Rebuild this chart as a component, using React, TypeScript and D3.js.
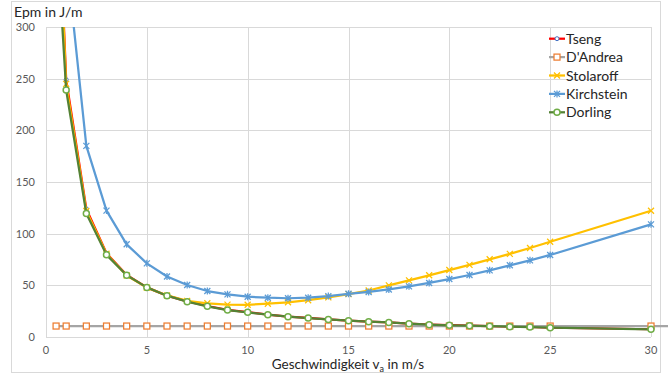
import React, { useEffect, useRef } from 'react';
import * as d3 from 'd3';

// Geschwindigkeit in m/s
const speeds = [0.5, 1, 2, 3, 4, 5, 6, 7, 8, 9, 10, 11, 12, 13, 14, 15, 16, 17, 18, 19, 20, 21, 22, 23, 24, 25, 30];

// Epm in J/m
const tseng = [480, 249, 124, 81, 60, 48, 40, 34.5, 30, 26.3, 24, 21.7, 19.8, 18.4, 17.1, 15.9, 14.9, 14.2, 13, 12, 11.4, 11, 10.6, 10.1, 9.7, 9.1, 7.5];
const dAndreaSpeeds = [...speeds, 31];
const dAndrea = [10.6, 10.6, 10.6, 10.6, 10.6, 10.6, 10.6, 10.6, 10.6, 10.6, 10.6, 10.6, 10.6, 10.6, 10.6, 10.6, 10.6, 10.6, 10.6, 10.6, 10.6, 10.6, 10.6, 10.6, 10.6, 10.6, 10.6, 10.6];
const stolaroff = [470, 245, 122, 80.5, 59.5, 47.8, 40.2, 35, 32.6, 31.3, 31.2, 32.2, 33.6, 35.6, 38.3, 41.5, 45, 50, 54.8, 59.7, 64.8, 69.8, 75.2, 80.4, 86.1, 92.2, 122.2];
const kirchstein = [700, 370, 185, 122.3, 89.7, 71.3, 58.5, 50.3, 44.5, 41.3, 39, 38, 37.5, 38, 39.6, 41.8, 43.6, 46, 49, 52.3, 56.1, 60, 64.5, 69.4, 74.2, 79.4, 109];
const dorling = [400, 239, 119.5, 79.5, 59.7, 48, 40, 34.2, 29.7, 26.1, 23.9, 21.6, 19.7, 18.3, 17, 15.8, 14.8, 14.1, 12.9, 11.9, 11.3, 10.9, 10.5, 10, 9.6, 9, 7.4];

const xTicks = [0, 5, 10, 15, 20, 25, 30];
const yTicks = [0, 50, 100, 150, 200, 250, 300];

const FONT = 'Lato, "Open Sans", sans-serif';

const App = () => {
  const svgRef = useRef<SVGSVGElement>(null);

  useEffect(() => {
    const svg = d3.select(svgRef.current);
    svg.selectAll('*').remove();

    const x = d3.scaleLinear().domain([0, 30]).range([46, 651]);
    const y = d3.scaleLinear().domain([0, 300]).range([337, 27]);

    // Rahmen
    svg.append('rect')
      .attr('x', 11.5).attr('y', 1.5)
      .attr('width', 649).attr('height', 371)
      .attr('fill', '#fff').attr('stroke', '#d9d9d9');

    // Gitternetz
    svg.append('g').selectAll('line').data(yTicks).join('line')
      .attr('x1', x(0)).attr('x2', x(30))
      .attr('y1', d => Math.round(y(d)) + 0.5).attr('y2', d => Math.round(y(d)) + 0.5)
      .attr('stroke', '#d9d9d9');
    svg.append('g').selectAll('line').data(xTicks).join('line')
      .attr('y1', y(0)).attr('y2', y(300))
      .attr('x1', d => Math.round(x(d)) + 0.5).attr('x2', d => Math.round(x(d)) + 0.5)
      .attr('stroke', '#d9d9d9');

    // Achsenbeschriftung
    svg.append('g').selectAll('text').data(yTicks).join('text')
      .attr('x', 35).attr('y', d => y(d) + 4)
      .attr('text-anchor', 'end')
      .attr('font-family', FONT).attr('font-size', 11).attr('fill', '#595959')
      .text(d => d);
    svg.append('g').selectAll('text').data(xTicks).join('text')
      .attr('x', d => x(d)).attr('y', 354)
      .attr('text-anchor', 'middle')
      .attr('font-family', FONT).attr('font-size', 11).attr('fill', '#595959')
      .text(d => d);

    svg.append('text')
      .attr('x', 14).attr('y', 17)
      .attr('font-family', FONT).attr('font-size', 14).attr('fill', '#262626')
      .text('Epm in J/m');

    const xt = svg.append('text')
      .attr('x', 348).attr('y', 369)
      .attr('text-anchor', 'middle')
      .attr('font-family', FONT).attr('font-size', 13.5).attr('fill', '#262626');
    xt.append('tspan').text('Geschwindigkeit v');
    xt.append('tspan').attr('font-size', 9).attr('dy', 3).text('a');
    xt.append('tspan').attr('dy', -3).text(' in m/s');

    // Kurven
    const series = [
      { name: 'Tseng', xs: speeds, values: tseng, color: '#ff0000', marker: 'smallCircle', mColor: '#4472c4' },
      { name: "D'Andrea", xs: dAndreaSpeeds, values: dAndrea, color: '#a5a5a5', marker: 'square', mColor: '#ed7d31' },
      { name: 'Stolaroff', xs: speeds, values: stolaroff, color: '#ffc000', marker: 'x', mColor: '#ffc000' },
      { name: 'Kirchstein', xs: speeds, values: kirchstein, color: '#5b9bd5', marker: 'star', mColor: '#5b9bd5' },
      { name: 'Dorling', xs: speeds, values: dorling, color: '#548235', marker: 'circle', mColor: '#70ad47' },
    ];

    svg.append('defs').append('clipPath').attr('id', 'plotClip')
      .append('rect').attr('x', 0).attr('y', y(300)).attr('width', 668).attr('height', 360);

    const line = d3.line<[number, number]>()
      .x(d => x(d[0]))
      .y(d => y(d[1]));

    const drawMarker = (g: any, type: string, color: string, cx: number, cy: number) => {
      if (type === 'circle') {
        g.append('circle').attr('cx', cx).attr('cy', cy).attr('r', 3)
          .attr('fill', '#fff').attr('stroke', color).attr('stroke-width', 1.5);
      } else if (type === 'smallCircle') {
        g.append('circle').attr('cx', cx).attr('cy', cy).attr('r', 2)
          .attr('fill', '#fff').attr('stroke', color).attr('stroke-width', 1);
      } else if (type === 'square') {
        g.append('rect').attr('x', cx - 3).attr('y', cy - 3).attr('width', 6).attr('height', 6)
          .attr('fill', '#fff').attr('stroke', color).attr('stroke-width', 1.25);
      } else if (type === 'x') {
        g.append('path').attr('d', `M${cx - 3},${cy - 3}L${cx + 3},${cy + 3}M${cx - 3},${cy + 3}L${cx + 3},${cy - 3}`)
          .attr('stroke', color).attr('stroke-width', 1.25);
      } else if (type === 'star') {
        g.append('path').attr('d', `M${cx - 3},${cy - 3}L${cx + 3},${cy + 3}M${cx - 3},${cy + 3}L${cx + 3},${cy - 3}M${cx},${cy - 3.5}L${cx},${cy + 3.5}`)
          .attr('stroke', color).attr('stroke-width', 1.25);
      }
    };

    series.forEach(s => {
      const pts: [number, number][] = s.xs.map((v, i) => [v, s.values[i]]);
      const g = svg.append('g');
      g.append('path')
        .attr('d', line(pts))
        .attr('clip-path', 'url(#plotClip)')
        .attr('fill', 'none')
        .attr('stroke', s.color)
        .attr('stroke-width', 2.25)
        .attr('stroke-linejoin', 'round');
      pts.filter(p => p[1] <= 300 && p[0] <= 30)
        .forEach(p => drawMarker(g, s.marker, s.mColor, x(p[0]), y(p[1])));
    });

    // Legende
    const legend = svg.append('g');
    series.forEach((s, i) => {
      const cy = 38.7 + i * 18.4;
      legend.append('line')
        .attr('x1', 549).attr('x2', 565).attr('y1', cy).attr('y2', cy)
        .attr('stroke', s.color).attr('stroke-width', 2.25);
      drawMarker(legend, s.marker, s.mColor, 557, cy);
      legend.append('text')
        .attr('x', 566).attr('y', cy + 5)
        .attr('font-family', FONT).attr('font-size', 14).attr('fill', '#262626')
        .text(s.name);
    });
  }, []);

  return (
    <svg ref={svgRef} width={668} height={378} style={{ position: 'absolute', left: 0, top: 0 }} />
  );
};

export default App;
